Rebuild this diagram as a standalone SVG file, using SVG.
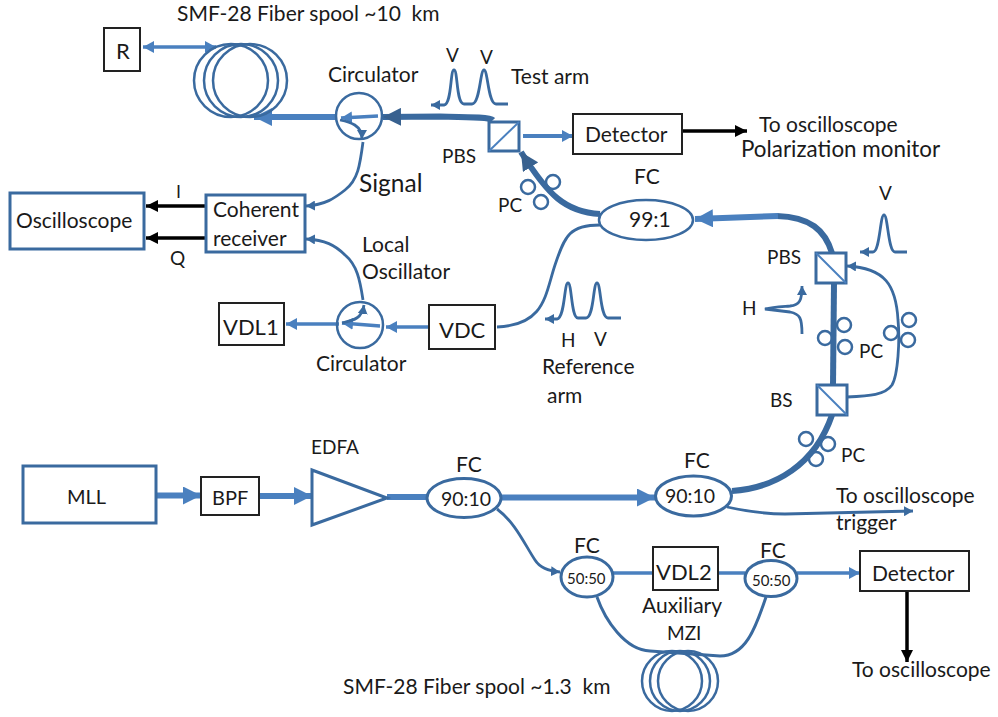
<svg xmlns="http://www.w3.org/2000/svg" width="998" height="717" viewBox="0 0 998 717">
<style>
text{font-family:Lato,"Open Sans","Liberation Sans",sans-serif;fill:#1a1a1a;font-size:21px;white-space:pre}
.s{font-size:19px}
.bk{fill:#fff;stroke:#222;stroke-width:2}
.bb{fill:#fff;stroke:#3a6a9f;stroke-width:3}
.o{fill:none;stroke:#3a6a9f;stroke-width:2.500}
.pc{fill:none;stroke:#3a6a9f;stroke-width:2.500}
.c{fill:none;stroke:#3a6a9f;stroke-width:2.800}
.l{fill:none;stroke:#4a80bf;stroke-width:3.500}
.L{fill:none;stroke:#4a80bf;stroke-width:6}
.D{fill:none;stroke:#3a6a9f;stroke-width:6}
.K{fill:none;stroke:#000;stroke-width:3.500}
.dg{stroke:#4a80bf;stroke-width:2}
</style>
<defs>
<marker id="hL" markerUnits="userSpaceOnUse" markerWidth="18" markerHeight="18" refX="18" refY="9" orient="auto"><path d="M0 0L18 9L0 18z" fill="#4a80bf"/></marker>
<marker id="hD" markerUnits="userSpaceOnUse" markerWidth="18" markerHeight="18" refX="18" refY="9" orient="auto"><path d="M0 0L18 9L0 18z" fill="#38618f"/></marker>
<marker id="hl" markerUnits="userSpaceOnUse" markerWidth="11" markerHeight="12" refX="11" refY="6" orient="auto"><path d="M0 0L11 6L0 12z" fill="#4a80bf"/></marker>
<marker id="hls" markerUnits="userSpaceOnUse" markerWidth="11" markerHeight="12" refX="0" refY="6" orient="auto"><path d="M11 0L0 6L11 12z" fill="#4a80bf"/></marker>
<marker id="hd" markerUnits="userSpaceOnUse" markerWidth="9" markerHeight="10" refX="9" refY="5" orient="auto"><path d="M0 0L9 5L0 10z" fill="#3a6a9f"/></marker>
<marker id="hK" markerUnits="userSpaceOnUse" markerWidth="12" markerHeight="12" refX="12" refY="6" orient="auto"><path d="M0 0L12 6L0 12z" fill="#000"/></marker>
</defs>
<g id="connectors">
<path class="L" d="M156 495.500H201" marker-end="url(#hL)"/>
<path class="L" d="M259 496H312" marker-end="url(#hL)"/>
<path class="L" d="M387 497H427"/>
<path class="L" d="M502 497.500H655" marker-end="url(#hL)"/>
<path class="c" d="M497 509C515 522 525 545 535 560C540 568 548 571 560 572" marker-end="url(#hd)"/>
<path class="D" d="M732 491C775 488 815 465 832 415"/>
<path class="c" d="M727 507C750 512 765 514 785 514L913 511" marker-end="url(#hd)"/>
<path class="D" d="M833 385L834 283"/>
<path class="c" d="M847 397C870 396 885 395 892 385C898 375 900 340 898 320C896 285 885 268 847 266" marker-end="url(#hd)"/>
<path class="D" d="M832 253C825 230 810 217 777 216"/>
<path class="L" d="M778 216L695 219" marker-end="url(#hL)"/>
<path class="D" d="M600 214C565 212 548 195 521 152" marker-end="url(#hD)"/>
<path class="c" d="M600 225C570 225 565 235 555 265C545 295 545 325 497 327"/>
<path class="l" d="M495 327H386" marker-end="url(#hl)"/>
<path class="l" d="M380 326L342 323" marker-end="url(#hl)"/>
<path class="c" d="M342 323C355 320 362 318 364 305" marker-end="url(#hd)"/>
<path class="l" d="M339 324H286" marker-end="url(#hl)"/>
<path class="c" d="M363 300C360 280 357 265 345 255C335 245 325 240 306 239" marker-end="url(#hd)"/>
<path class="c" d="M363 142C360 165 358 180 345 190C335 198 325 205 306 206" marker-end="url(#hd)"/>
<path class="l" d="M378 116L341 118" marker-end="url(#hl)"/>
<path class="c" d="M340 120C350 122 362 125 362 139" marker-end="url(#hd)"/>
<path class="L" d="M337 117H254" marker-end="url(#hL)"/>
<path class="D" d="M493 120C490 117 470 117 440 116.500L383 117" marker-end="url(#hD)"/>
<path class="l" d="M523 136H573" marker-end="url(#hl)" style="stroke-width:4"/>
<path class="K" d="M682 131H747" marker-end="url(#hK)"/>
<path class="l" d="M143 47H216" marker-start="url(#hls)" marker-end="url(#hl)"/>
<path class="K" d="M206 206H146" marker-end="url(#hK)"/>
<path class="K" d="M206 238H146" marker-end="url(#hK)"/>
<path class="K" d="M907 591V662" marker-end="url(#hK)"/>
<path class="l" d="M613 573H653"/>
<path class="l" d="M718 573H745"/>
<path class="l" d="M797 573H860" marker-end="url(#hl)"/>
<path class="c" d="M597 597C605 620 625 650 650 651L720 656C745 656 755 630 766 597" style="stroke-width:3"/>
</g>
<g id="pulses">
<path class="c" d="M508 104L496 104C488 104 488 70 484 70C480 70 480 104 472 104L464 104C456 104 458 70 454 70C450 70 452 104 444 105L431 105" marker-end="url(#hd)"/>
<path class="c" d="M621 318L608 318C600 318 601 283 597 283C593 283 594 318 586 318L578 318C571 318 572 283 568 283C564 283 565 318 557 319L545 319" marker-end="url(#hd)"/>
<path class="c" d="M907 252L895 252C888 252 888 215 884 215C880 215 880 252 873 252L860 252" marker-end="url(#hd)"/>
<path class="c" d="M802 334C802 318 800 314 790 312L765 309C772 307 775 307 790 306C800 305 802 300 802 286" marker-end="url(#hd)"/>
</g>
<g id="R"><rect class="bk" x="104" y="28" width="36" height="43"/><text x="116" y="59" style="font-size:22px">R</text></g>
<g id="spool1"><ellipse class="o" cx="231" cy="80.500" rx="37" ry="36.500"/><ellipse class="o" cx="241" cy="80.500" rx="37" ry="36.500"/><ellipse class="o" cx="250" cy="80.500" rx="37" ry="36.500"/></g>
<g id="circulator1"><circle class="o" cx="359" cy="116" r="23"/><text x="328" y="82">Circulator</text></g>
<g id="pbs1"><rect class="bb" x="489" y="122" width="30" height="29"/><path class="dg" d="M489 151L519 122"/><text class="s" x="442" y="163">PBS</text></g>
<g id="detector1"><rect class="bk" x="573" y="114" width="109" height="40"/><text x="585" y="142">Detector</text></g>
<g id="oscilloscope"><rect class="bb" x="10" y="193" width="134" height="56"/><text x="16" y="228">Oscilloscope</text></g>
<g id="receiver"><rect class="bb" x="206" y="195" width="99" height="57"/><text x="213" y="217">Coherent</text><text x="213" y="246">receiver</text></g>
<g id="VDL1"><rect class="bk" x="219" y="303" width="65" height="42"/><text x="223" y="335" style="font-size:22px">VDL1</text></g>
<g id="circulator2"><circle class="o" cx="360" cy="325" r="23"/><text x="316" y="371">Circulator</text></g>
<g id="VDC"><rect class="bk" x="429" y="305" width="66" height="44"/><text x="439" y="338" style="font-size:22px">VDC</text></g>
<g id="fc991"><ellipse class="o" cx="646" cy="220" rx="47" ry="20"/><text x="634" y="184">FC</text><text x="629" y="227">99:1</text></g>
<g id="pc1"><circle class="pc" cx="528" cy="187" r="7"/><circle class="pc" cx="553" cy="182" r="7"/><circle class="pc" cx="541" cy="202" r="7"/><text class="s" x="498" y="212">PC</text></g>
<g id="pc2"><circle class="pc" cx="844" cy="325" r="7"/><circle class="pc" cx="825" cy="338" r="7"/><circle class="pc" cx="845" cy="347" r="7"/></g>
<g id="pc3"><circle class="pc" cx="909" cy="320" r="7"/><circle class="pc" cx="891" cy="333" r="7"/><circle class="pc" cx="908" cy="340" r="7"/><text class="s" x="859" y="358">PC</text></g>
<g id="pc4"><circle class="pc" cx="806" cy="439" r="7"/><circle class="pc" cx="828" cy="444" r="7"/><circle class="pc" cx="816" cy="459" r="7"/><text class="s" x="841" y="462">PC</text></g>
<g id="pbs2"><rect class="bb" x="816" y="253" width="30" height="30"/><path class="dg" d="M816 253L846 283"/><text class="s" x="767" y="264">PBS</text></g>
<g id="bs"><rect class="bb" x="817" y="385" width="30" height="30"/><path class="dg" d="M817 385L847 415"/><text class="s" x="770" y="407">BS</text></g>
<g id="MLL"><rect class="bb" x="23" y="466" width="133" height="57"/><text x="67" y="504" style="font-size:20px">MLL</text></g>
<g id="BPF"><rect class="bk" x="201" y="477" width="58" height="38"/><text x="212" y="505" style="font-size:20px">BPF</text></g>
<g id="EDFA"><path class="bb" d="M312 470L387 498L312 525z"/><text class="s" x="311" y="454">EDFA</text></g>
<g id="fc1"><ellipse class="bb" cx="464" cy="498" rx="37" ry="19.500"/><text x="456" y="472">FC</text><text x="441" y="506" style="font-size:19.500px">90:10</text></g>
<g id="fc2"><ellipse class="bb" cx="693.500" cy="496" rx="38" ry="20"/><text x="684" y="468">FC</text><text x="665" y="503" style="font-size:19.500px">90:10</text></g>
<g id="fc3"><ellipse class="bb" cx="587" cy="577" rx="26" ry="20"/><text x="574" y="553">FC</text><text x="567" y="584" style="font-size:15px">50:50</text></g>
<g id="VDL2"><rect class="bk" x="653" y="547" width="65" height="43"/><text x="656" y="580" style="font-size:22px">VDL2</text><text x="642" y="613">Auxiliary</text><text class="s" x="667" y="640">MZI</text></g>
<g id="fc4"><ellipse class="bb" cx="771" cy="578.500" rx="26" ry="18"/><text x="760" y="558">FC</text><text x="752" y="586" style="font-size:15px">50:50</text></g>
<g id="detector2"><rect class="bk" x="860" y="551" width="109" height="40"/><text x="872" y="581">Detector</text></g>
<g id="spool2"><ellipse class="o" cx="672" cy="681" rx="30" ry="30"/><ellipse class="o" cx="680" cy="681" rx="30" ry="30"/><ellipse class="o" cx="688" cy="681" rx="30" ry="30"/></g>
<g id="labels">
<text x="177" y="21">SMF-28 Fiber spool ~10  km</text>
<text class="s" x="446" y="62">V</text><text class="s" x="480" y="64">V</text>
<text x="511" y="84">Test arm</text>
<text x="759" y="132">To oscilloscope</text>
<text x="741" y="157" style="font-size:22.400px">Polarization monitor</text>
<text class="s" x="176" y="198" style="font-family:'DejaVu Sans',sans-serif;font-size:17px">I</text><text class="s" x="170" y="265">Q</text>
<text x="359" y="192" style="font-size:24.500px">Signal</text>
<text x="362" y="252">Local</text><text x="362" y="279">Oscillator</text>
<text class="s" x="879" y="200">V</text><text class="s" x="742" y="315">H</text>
<text class="s" x="561" y="347">H</text><text class="s" x="594" y="346">V</text>
<text x="542" y="374">Reference</text><text x="547" y="403">arm</text>
<text x="836" y="503">To oscilloscope</text><text x="836" y="530">trigger</text>
<text x="852" y="677">To oscilloscope</text>
<text x="343" y="694">SMF-28 Fiber spool ~1.3  km</text>
</g>
</svg>
